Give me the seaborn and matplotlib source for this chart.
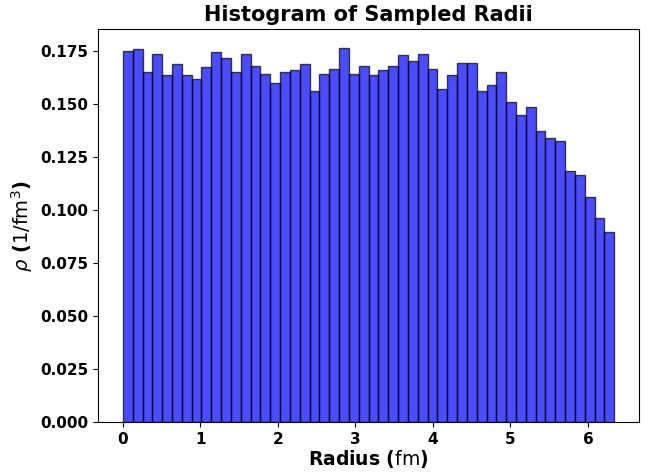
import numpy as np
import pandas as pd
import seaborn as sns
import matplotlib
matplotlib.use("Agg")
import matplotlib.pyplot as plt

# bin range of the radius histogram (fm)
r_max = 6.34
n_bins = 50

# normalised density, one value per bin
density = [
    0.1750, 0.1760, 0.1653, 0.1735, 0.1640, 0.1690, 0.1640, 0.1620, 0.1675, 0.1747,
    0.1720, 0.1652, 0.1735, 0.1680, 0.1641, 0.1600, 0.1650, 0.1662, 0.1690, 0.1562,
    0.1644, 0.1664, 0.1765, 0.1642, 0.1680, 0.1637, 0.1660, 0.1682, 0.1732, 0.1705,
    0.1735, 0.1664, 0.1572, 0.1640, 0.1696, 0.1695, 0.1560, 0.1590, 0.1652, 0.1510,
    0.1450, 0.1485, 0.1372, 0.1342, 0.1325, 0.1185, 0.1165, 0.1062, 0.0962, 0.0898,
]

title = "Histogram of Sampled Radii"
x_label = r"Radius ($\mathrm{fm}$)"
y_label = r"$\rho$ ($1/\mathrm{fm}^3$)"


def main():
    edges = np.linspace(0, r_max, n_bins + 1)
    centers = 0.5 * (edges[:-1] + edges[1:])
    df = pd.DataFrame({"radius": centers, "density": density})

    fig, ax = plt.subplots(figsize=(6.62, 4.72), dpi=100)
    fig.subplots_adjust(left=0.1485, right=0.965, bottom=0.105, top=0.938)

    sns.histplot(
        data=df,
        x="radius",
        weights="density",
        bins=n_bins,
        binrange=(0, r_max),
        color="blue",
        alpha=0.7,
        edgecolor=(0, 0, 0, 0.7),
        linewidth=1.0,
        ax=ax,
    )

    ax.set_title(title, fontsize=15, fontweight="bold")
    ax.set_xlabel(x_label, fontsize=13.5, fontweight="bold", labelpad=0.5)
    ax.set_ylabel(y_label, fontsize=14, fontweight="bold")
    ax.set_yticks(np.arange(0, 0.176, 0.025))
    ax.yaxis.set_major_formatter(matplotlib.ticker.FormatStrFormatter("%.3f"))
    for lab in ax.get_xticklabels() + ax.get_yticklabels():
        lab.set_fontweight("bold")
        lab.set_fontsize(11)

    fig.savefig("out.png", dpi=100)


if __name__ == "__main__":
    main()
